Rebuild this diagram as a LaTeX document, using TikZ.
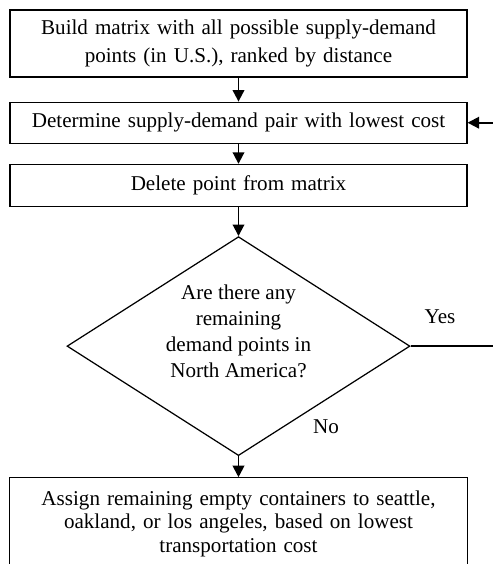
\documentclass[tikz,border=0pt]{standalone}
\usepackage{fontspec}
\setmainfont{Liberation Serif}
\usetikzlibrary{arrows.meta,positioning,shapes.geometric}

\begin{document}
\begin{tikzpicture}[
        x=0.02cm, y=-0.02cm,
        font=\fontsize{12}{14}\selectfont,
        stepbox/.style  = {draw, line width=0.7pt, align=center, inner sep=2pt,
                           minimum width=9.14cm, text width=8.9cm},
        decision/.style = {draw, diamond, line width=0.7pt, inner sep=0pt,
                           minimum width=6.86cm, minimum height=4.38cm},
        flow/.style     = {-{Triangle[length=2.3mm, width=2.3mm]}, line width=1.1pt}
    ]
        \useasboundingbox (0,0) rectangle (493,564);

        % ---- Steps ----
        \node[stepbox, minimum height=1.34cm, font=\fontsize{12}{16.4}\selectfont] (build) at (238.5,43.5)
            {Build matrix with all possible supply-demand\\points (in U.S.), ranked by distance};
        \node[stepbox, minimum height=0.82cm, below=0.48cm of build] (pair)
            {Determine supply-demand pair with lowest cost};
        \node[stepbox, minimum height=0.84cm, below=0.4cm of pair] (delete)
            {Delete point from matrix};

        % ---- Decision ----
        \node[decision, below=0.58cm of delete] (check) {};
        \node[align=center, font=\fontsize{12}{14.7}\selectfont] (checktext) at ([yshift=0.3cm]check.center)
            {Are there any\\remaining\\demand points in\\North America?};

        % ---- Final step (cut off at the bottom) ----
        \node[stepbox, draw=none, minimum height=1.84cm, below=0.42cm of check,
              font=\fontsize{12}{13.6}\selectfont] (assign)
            {Assign remaining empty containers to seattle,\\oakland, or los angeles, based on lowest\\transportation cost};
        \draw[line width=0.7pt] (assign.south west) -- (assign.north west)
            -- (assign.north east) -- (assign.south east);

        % ---- Links ----
        \path (pair.east) ++(27,0) coordinate (loopin);
        \coordinate (yesend) at (check.east -| loopin);
        \draw[flow] (build) -- (pair);
        \draw[flow] (pair) -- (delete);
        \draw[flow] (delete) -- (check);
        \draw[flow] (check) -- (assign);
        \draw[line width=1.1pt] (check.east) -- (yesend)
            node[pos=0.35, yshift=0.58cm] (yes) {Yes};
        \draw[flow] (loopin) -- (pair.east);
        \node (no) at (326,427) {No};
    \end{tikzpicture}
\end{document}
